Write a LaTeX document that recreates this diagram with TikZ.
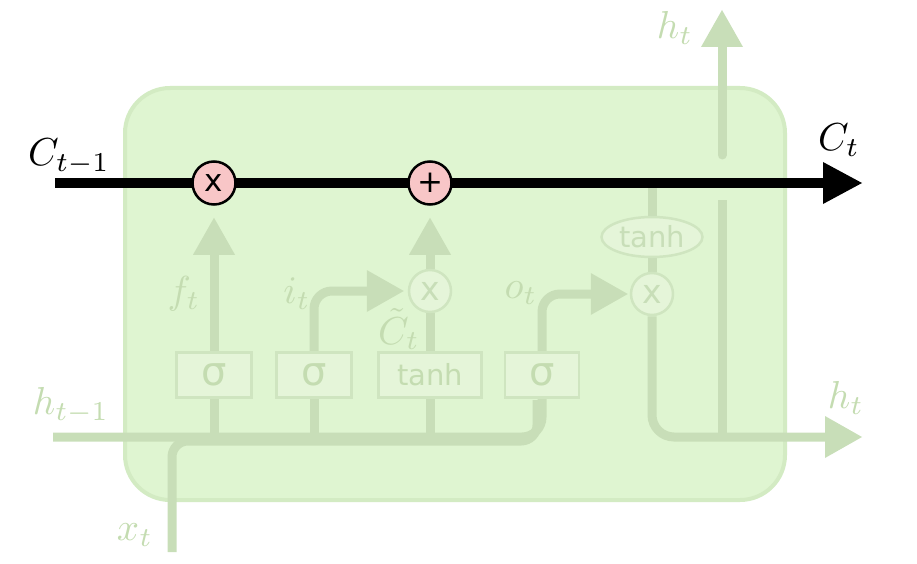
\documentclass[tikz,border=0pt]{standalone}
\usepackage{fontspec}
\newfontfamily\dejavu{DejaVu Sans}
\usetikzlibrary{arrows.meta,shapes.geometric}
\definecolor{gline}{HTML}{C8DEB8}
\definecolor{gtext}{HTML}{C4DCB1}
\definecolor{bgfill}{HTML}{DFF5D1}
\definecolor{bgline}{HTML}{D3EBC3}
\definecolor{gboxfill}{HTML}{E5F5D9}
\definecolor{gboxline}{HTML}{CFE5C0}
\definecolor{pinkc}{HTML}{F8C6C7}
\pgfdeclarelayer{bg}
\pgfdeclarelayer{lines}
\pgfsetlayers{bg,lines,main}
\tikzset{
  gl/.style={draw=gline, line width=9pt},
  garr/.style={gl, -{Triangle[length=37pt,width=42pt,line width=0pt]}},
  cell/.style={draw=black, line width=10pt, -{Triangle[length=39pt,width=42pt,line width=0pt]}},
  gatebox/.style={draw=gboxline, fill=gboxfill, line width=2.5pt, minimum height=45pt, inner sep=0pt,
    text=gtext, font=\dejavu\fontsize{40}{40}\selectfont},
  tanhfont/.style={font=\dejavu\fontsize{29}{29}\selectfont},
  pinkop/.style={circle, draw=black, fill=pinkc, line width=2.5pt, minimum size=43pt, inner sep=0pt,
    font=\dejavu\fontsize{31}{31}\selectfont},
  fadeop/.style={circle, draw=gboxline, fill=gboxfill, line width=2.5pt, minimum size=42pt, inner sep=0pt,
    text=gline, font=\dejavu\fontsize{33}{33}\selectfont},
  fadeell/.style={ellipse, draw=gboxline, fill=gboxfill, line width=2.5pt, minimum width=101pt, minimum height=40pt, inner sep=0pt,
    text=gline, font=\dejavu\fontsize{29}{29}\selectfont},
  glabel/.style={text=gtext, scale=3.9, inner sep=0pt},
  blabel/.style={text=black, scale=3.9, inner sep=0pt},
}
\begin{document}
\begin{tikzpicture}[x=1pt,y=-1pt]
\useasboundingbox (0,0) rectangle (917,564);
% background cell
\begin{pgfonlayer}{bg}
\node[draw=bgline, fill=bgfill, line width=4pt, rounded corners=45pt, minimum width=660pt, minimum height=412pt, inner sep=0pt] (cellbox) at (455,294) {};
\end{pgfonlayer}
% coordinates
\coordinate (cl) at (55,183);
\coordinate (cr) at (862,183);
\coordinate (hl) at (53,437);
\coordinate (hr) at (862,437);
\coordinate (xb) at (172,552);
\coordinate (xj) at (537,441);
\coordinate (xk) at (537,400);
\coordinate (ctop) at (652,183);
\coordinate (hup1) at (722,200);
\coordinate (hjoin) at (722,437);
\coordinate (hup2) at (722,155);
\coordinate (htop) at (722,10);
% operators and gates
\node[pinkop] (fx) at (214,183) {x};
\node[pinkop] (px) at (430,183) {+};
\node[gatebox, minimum width=75pt] (s1) at (214,375) {σ};
\node[gatebox, minimum width=75pt] (s2) at (314,375) {σ};
\node[gatebox, minimum width=103pt, tanhfont] (th) at (430,375) {tanh};
\node[gatebox, minimum width=74pt] (s3) at (542,375) {σ};
\node[fadeop] (ix) at (430,291) {x};
\node[fadeop] (ox) at (652,294) {x};
\node[fadeell] (tc) at (652,237) {tanh};
% lines
\begin{pgfonlayer}{lines}
\draw[gl, rounded corners=20pt] (hl) -| (s3.south);
\draw[gl, rounded corners=16pt] (xb) |- (xj) -- (xk);
\draw[gl] (s1.south) -- (s1.south |- hl);
\draw[gl] (s2.south) -- (s2.south |- hl);
\draw[gl] (th.south) -- (th.south |- hl);
\draw[garr, shorten >=12pt] (s1.north) -- (fx.south);
\draw[garr, rounded corners=18pt, shorten >=4pt] (s2.north) |- (ix.west);
\draw[gl] (th.north) -- (ix.south);
\draw[garr, shorten >=12pt] (ix.north) -- (px.south);
\draw[garr, rounded corners=18pt, shorten >=2pt] (s3.north) |- (ox.west);
\draw[gl] (ox.north) -- (tc.south);
\draw[gl] (tc.north) -- (ctop);
\draw[garr, rounded corners=22pt] (ox.south) |- (hr);
\draw[gl] (hup1) -- (hjoin);
\draw[garr, line cap=round] (hup2) -- (htop);
\draw[cell] (cl) -- (cr);
\end{pgfonlayer}
% labels
\node[blabel] (lc1) at (69,157) {$C_{t-1}$};
\node[blabel] (lc2) at (839,140) {$C_t$};
\node[glabel] (lht) at (675,28) {$h_t$};
\node[glabel] (lhr) at (846,398) {$h_t$};
\node[glabel] (lhl) at (71,406) {$h_{t-1}$};
\node[glabel] (lx) at (135,535) {$x_t$};
\node[glabel] (lf) at (184,294) {$f_t$};
\node[glabel] (li) at (297,294) {$i_t$};
\node[glabel] (lct) at (399,329) {$\tilde{C}_t$};
\node[glabel] (lo) at (521,293) {$o_t$};
\end{tikzpicture}
\end{document}
